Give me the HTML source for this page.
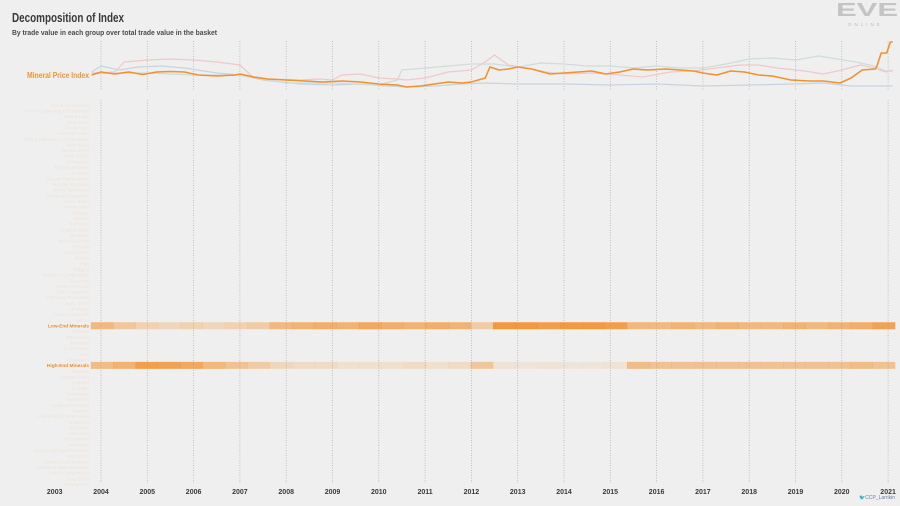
<!DOCTYPE html>
<html><head><meta charset="utf-8">
<style>
html,body{margin:0;padding:0;background:#efefef;}
body{width:900px;height:506px;overflow:hidden;font-family:"Liberation Sans",sans-serif;}
svg{display:block}
</style></head>
<body>
<svg id="chart" width="900" height="506" xmlns="http://www.w3.org/2000/svg">
<rect x="0" y="0" width="900" height="506" fill="#efefef"/>
<text x="12" y="22" font-size="13" font-weight="bold" fill="#3a3a3a" textLength="112" lengthAdjust="spacingAndGlyphs">Decomposition of Index</text>
<text x="12" y="35" font-size="7.5" font-weight="bold" fill="#4a4a4a" textLength="205" lengthAdjust="spacingAndGlyphs">By trade value in each group over total trade value in the basket</text>
<g>
<text x="836" y="16" font-size="18" font-weight="bold" fill="#c4c4c4" textLength="62" lengthAdjust="spacingAndGlyphs">EVE</text>
<text x="848" y="26" font-size="4.5" fill="#b8b8b8" letter-spacing="3">ONLINE</text>
</g>
<text x="89" y="78" font-size="8" font-weight="bold" fill="#f0952f" text-anchor="end" textLength="62" lengthAdjust="spacingAndGlyphs">Mineral Price Index</text>
<g id="grid"></g>
<g id="lines"></g>
<g id="rows"></g>
<g id="strips"></g>
<g id="years"></g>
<text x="895" y="499" font-size="5" fill="#6a7f95" text-anchor="end">🐦CCP_Larrikin</text>
</svg>
<script>
const years=[2003,2004,2005,2006,2007,2008,2009,2010,2011,2012,2013,2014,2015,2016,2017,2018,2019,2020,2021];
const orangeT=[2003.8,2004.0,2004.3,2004.6,2004.9,2005.2,2005.5,2005.8,2006.1,2006.5,2006.9,2007.0,2007.3,2007.6,2008.0,2008.4,2008.8,2009.2,2009.6,2010.0,2010.4,2010.6,2010.9,2011.2,2011.5,2011.8,2012.0,2012.3,2012.4,2012.6,2012.8,2013.0,2013.3,2013.7,2014.0,2014.3,2014.6,2014.9,2015.2,2015.5,2015.8,2016.2,2016.5,2016.8,2017.0,2017.3,2017.6,2017.9,2018.2,2018.5,2018.9,2019.3,2019.6,2019.96,2020.2,2020.44,2020.72,2020.76,2020.85,2020.97,2021.05,2021.1];
const orangeV=[15,18,16,18,15.5,18,18.5,18,15,14,15,16,13,11,10,9,8,9,8,6,5,3,4,6,8,7,8,12,23,20,21,23,21,16,17,18,19,16,18,21,20,21,20,19,17,15,19,18,15,14,10,9,9,7,12,20,21,24,37,37,48,48];
const pinkT=[2003.8,2004.3,2004.5,2005.0,2005.5,2006.0,2006.5,2007.0,2007.3,2007.6,2008.3,2008.7,2009.0,2009.2,2009.6,2010.0,2010.4,2010.6,2011.0,2011.5,2012.0,2012.3,2012.5,2012.8,2013.2,2013.6,2014.0,2014.6,2015.2,2015.7,2016.3,2016.8,2017.3,2017.8,2018.2,2018.6,2019.2,2019.6,2020.0,2020.4,2020.7,2020.95,2021.1];
const pinkV=[17,18,28,30,31,30,28,25,12,11,10,11,10,15,16,12,11,10,12,18,20,28,35,25,22,18,16,17,15,13,18,19,22,25,25,22,19,16,20,25,22,18,20];
const blueT=[2003.8,2004.0,2004.4,2004.8,2005.3,2005.8,2006.5,2007.0,2007.5,2008.3,2009.0,2009.6,2010.2,2010.6,2011.2,2011.8,2012.3,2013.0,2014.0,2015.0,2016.0,2017.0,2018.0,2019.0,2019.6,2020.2,2020.9,2021.1];
const blueV=[18,24,20,23,24,22,17,15,10,6,5,6,4,3,4,6,7,6,6,5,6,4,5,6,7,4,4,4];
const tealT=[2003.8,2004.3,2005.0,2006.0,2007.0,2008.0,2009.0,2010.0,2010.4,2010.5,2011.0,2011.5,2012.0,2012.5,2013.0,2013.5,2014.0,2014.5,2015.0,2015.5,2016.0,2016.5,2017.0,2017.5,2018.0,2018.5,2019.0,2019.5,2019.9,2020.3,2020.7,2020.95,2021.1];
const tealV=[16,17,17,15,15,7,7,5,10,20,22,24,26,26,23,27,26,24,24,22,24,22,22,26,31,32,30,34,31,28,24,19,19];
const stripStart=2003.78, stripStep=0.4825;
const lowEnd=[0.55,0.4,0.3,0.25,0.3,0.25,0.3,0.35,0.55,0.6,0.65,0.6,0.7,0.65,0.6,0.65,0.6,0.35,0.85,0.85,0.8,0.85,0.85,0.8,0.55,0.55,0.6,0.55,0.6,0.55,0.55,0.6,0.55,0.6,0.65,0.75];
const highEnd=[0.5,0.6,0.8,0.75,0.7,0.55,0.45,0.35,0.25,0.2,0.2,0.15,0.15,0.15,0.2,0.15,0.2,0.4,0.12,0.1,0.12,0.1,0.1,0.12,0.5,0.45,0.45,0.45,0.45,0.45,0.45,0.45,0.45,0.45,0.5,0.45];
const rowLabels=["Salt & Condiments","Fuel & Lubricating Components","Data & Logs","Tech Parts","Ore & Rock","Hull Fabrication","Tech & Information Components","Tech Ships","Tactical Items","Rare Goods","Computers","Frontier Modules","Modules","Booster Components","Booster Materials","Hybrid Tech Parts","Commodity Materials","Ammo Items","Power Units","Salvage","Drones","Hull Parts","Capital Ships","Weapons","Moon Materials","Minerals","Gas Clouds","Shields","Rigs","Rigging","Structure Components","Planetary","Planet Materials","Ship Equipment","Planetary Processed","Navy Items","Implants","Faction Materials","Armor","Low-End Minerals","Systems","Electronics","Boosters","Ice Products","Fuel","Propulsion","High-End Minerals","Engines","Combat Ships","Frigates","Cruisers","Destroyers","Battleships","Construction Ships","Stations","Capital Ship Components","Skillbooks","Blueprints","Datacores","Subsystems","Interfaces","Ancient Salvaged Materials","Decryptors","Apparel & Accessories","Advanced Moon Materials","Tech 3 Components","Ship Skins","Accessories"];
const highlight={"Low-End Minerals":1,"High-End Minerals":1};

const NS="http://www.w3.org/2000/svg";
const xs=t=>101+(t-2004)*46.3;
const yl=v=>90-v;
const rowY=i=>105+i*5.66;
function mk(tag,attrs,parent){const e=document.createElementNS(NS,tag);for(const k in attrs)e.setAttribute(k,attrs[k]);parent.appendChild(e);return e;}

const grid=document.getElementById('grid');
years.forEach(y=>{if(y===2003)return;
 const l1=mk('line',{x1:xs(y),x2:xs(y),y1:41,y2:90,stroke:'#b5b5b5','stroke-width':0.8,'stroke-dasharray':'1,1.5'},grid);
 
 
 const l2=mk('line',{x1:xs(y),x2:xs(y),y1:100,y2:483,stroke:'#b5b5b5','stroke-width':0.8,'stroke-dasharray':'1,1.5'},grid);
 
 
});
const yg=document.getElementById('years');
years.forEach(y=>{const t=mk('text',{x:xs(y),y:494,'font-size':7,'font-weight':'bold',fill:'#3a3a3a','text-anchor':'middle'},yg);t.textContent=y;
 
 });

const lg=document.getElementById('lines');
function line(T,V,color,w,name){const d=T.map((t,i)=>(i?'L':'M')+xs(t).toFixed(1)+','+yl(V[i]).toFixed(1)).join('');
 const p=mk('path',{d:d,fill:'none',stroke:color,'stroke-width':w,'stroke-linejoin':'round'},lg);
 
 }
line(blueT,blueV,'#c9d3df',1.2,'blue-series-line');
line(tealT,tealV,'#cfdcd9',1.2,'teal-series-line');
line(pinkT,pinkV,'#efc9c9',1.2,'pink-series-line');
line(orangeT,orangeV,'#f0922e',1.6,'mineral-price-index-line');

const rg=document.getElementById('rows');
rowLabels.forEach((n,i)=>{const h=highlight[n];
 const t=mk('text',{x:89,y:rowY(i)+1.8,'font-size':h?4.8:4.6,'font-weight':h?'bold':'normal',fill:h?'#ee8a28':'#eee3d8','text-anchor':'end'},rg);t.textContent=n;
 
 });

const sg=document.getElementById('strips');
function strip(vals,row,name){const y=rowY(row)-3.5;
 vals.forEach((v,i)=>{const x0=xs(stripStart+i*stripStep);let x1=xs(stripStart+(i+1)*stripStep);if(x1>895)x1=895;
  const r=mk('rect',{x:x0,y:y,width:Math.max(0,x1-x0+0.3),height:7,fill:'#f28a22','fill-opacity':v},sg);
  
  });}
strip(lowEnd,rowLabels.indexOf("Low-End Minerals"),'low-end-minerals');
strip(highEnd,rowLabels.indexOf("High-End Minerals"),'high-end-minerals');
</script>
</body></html>
